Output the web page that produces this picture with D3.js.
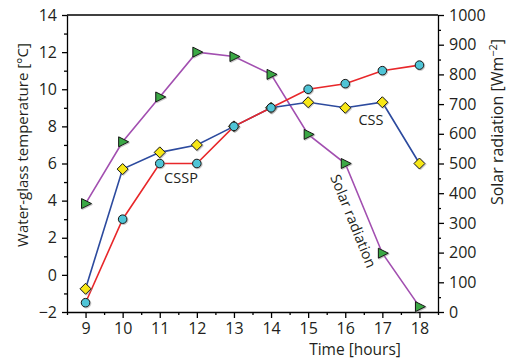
<!DOCTYPE html>
<html>
<head>
<meta charset="utf-8">
<script src="https://cdn.jsdelivr.net/npm/d3@7"></script>
<style>
  body { margin: 0; background: #fff; }
  text { font-family: "Open Sans", "Noto Sans", sans-serif; fill: #231f20; }
</style>
</head>
<body>
<div id="chart"></div>
<script>
(function() {
    const width = 507;
    const height = 360;
    const margin = {top: 15, right: 69, bottom: 48, left: 67};

    // hours on the x axis
    const hours = [9, 10, 11, 12, 13, 14, 15, 16, 17, 18];
    // CSSP water-glass temperature [°C]
    const cssp = [-1.5, 3.0, 6.0, 6.0, 8.0, 9.0, 10.0, 10.3, 11.0, 11.3];
    // CSS water-glass temperature [°C]
    const css = [-0.75, 5.7, 6.6, 7.0, 8.0, 9.0, 9.3, 9.0, 9.3, 6.0];
    // solar radiation [W m-2]
    const solar = [365, 573, 724, 875, 860, 800, 598, 500, 198, 18];

    const tempTicks = [-2, 0, 2, 4, 6, 8, 10, 12, 14];
    const solarTicks = [0, 100, 200, 300, 400, 500, 600, 700, 800, 900, 1000];

    const iw = width - margin.left - margin.right;
    const ih = height - margin.top - margin.bottom;

    const x = d3.scaleLinear().domain([8.5, 18.5]).range([0, iw]);
    const yT = d3.scaleLinear().domain([-2, 14]).range([ih, 0]);
    const yS = d3.scaleLinear().domain([0, 1000]).range([ih, 0]);

    const svg = d3.select("#chart").append("svg")
        .attr("width", width)
        .attr("height", height);

    const defs = svg.append("defs");
    defs.append("filter")
        .attr("id", "shadow")
        .attr("x", "-50%").attr("y", "-50%")
        .attr("width", "200%").attr("height", "200%")
        .append("feDropShadow")
        .attr("dx", 0.8).attr("dy", 0.8)
        .attr("stdDeviation", 0.7)
        .attr("flood-color", "#888")
        .attr("flood-opacity", 0.6);

    const g = svg.append("g")
        .attr("transform", "translate(" + margin.left + "," + margin.top + ")");

    // frame top line
    g.append("line")
        .attr("x1", 0).attr("x2", iw)
        .attr("y1", 0).attr("y2", 0)
        .attr("stroke", "#000").attr("stroke-width", 1.3);

    // axes: majors with labels, minors without
    function styleAxis(sel) {
        sel.select(".domain").attr("stroke", "#000").attr("stroke-width", 1.3);
        sel.selectAll(".tick line").attr("stroke", "#000").attr("stroke-width", 1.3);
        sel.selectAll(".tick text").attr("font-size", 16).attr("fill", "#231f20");
    }

    const xAxis = g.append("g")
        .attr("transform", "translate(0," + ih + ")")
        .call(d3.axisBottom(x).tickValues(hours).tickSize(6).tickSizeOuter(0).tickPadding(5).tickFormat(d3.format("d")));
    styleAxis(xAxis);
    g.append("g")
        .attr("transform", "translate(0," + ih + ")")
        .call(d3.axisBottom(x).tickValues(hours.map(h => h - 0.5).concat([18.5])).tickSize(3).tickSizeOuter(0).tickFormat(""))
        .call(styleAxis)
        .select(".domain").remove();

    const yAxisL = g.append("g")
        .call(d3.axisLeft(yT).tickValues(tempTicks).tickSize(5).tickSizeOuter(0).tickPadding(5).tickFormat(d => d < 0 ? "\u2212" + Math.abs(d) : d));
    styleAxis(yAxisL);
    g.append("g")
        .call(d3.axisLeft(yT).tickValues(d3.range(-1, 14, 2)).tickSize(3).tickFormat(""))
        .call(styleAxis)
        .select(".domain").remove();

    const yAxisR = g.append("g")
        .attr("transform", "translate(" + iw + ",0)")
        .call(d3.axisRight(yS).tickValues(solarTicks).tickSize(6).tickSizeOuter(0).tickPadding(5).tickFormat(d3.format("d")));
    styleAxis(yAxisR);
    g.append("g")
        .attr("transform", "translate(" + iw + ",0)")
        .call(d3.axisRight(yS).tickValues(d3.range(50, 1000, 100)).tickSize(3).tickFormat(""))
        .call(styleAxis)
        .select(".domain").remove();

    // axis titles
    svg.append("text")
        .attr("transform", "translate(28,145) rotate(-90)")
        .attr("text-anchor", "middle")
        .attr("font-size", 15)
        .text("Water-glass temperature [°C]");

    const rt = svg.append("text")
        .attr("transform", "translate(503,122) rotate(-90)")
        .attr("text-anchor", "middle")
        .attr("font-size", 16);
    rt.append("tspan").text("Solar radiation [Wm");
    rt.append("tspan").attr("dy", -6).attr("font-size", 11).text("\u22122");
    rt.append("tspan").attr("dy", 6).text("]");

    svg.append("text")
        .attr("x", 355).attr("y", 355)
        .attr("text-anchor", "middle")
        .attr("font-size", 15.5)
        .text("Time [hours]");

    // series
    const lineT = d3.line().x((d, i) => x(hours[i])).y(d => yT(d));
    const lineS = d3.line().x((d, i) => x(hours[i])).y(d => yS(d));

    g.append("path").datum(solar).attr("d", lineS)
        .attr("fill", "none").attr("stroke", "#a24fb0").attr("stroke-width", 1.6);
    g.append("path").datum(css).attr("d", lineT)
        .attr("fill", "none").attr("stroke", "#2c4a9e").attr("stroke-width", 1.6);
    g.append("path").datum(cssp).attr("d", lineT)
        .attr("fill", "none").attr("stroke", "#e8272a").attr("stroke-width", 1.6);

    // green triangles (solar)
    g.append("g").selectAll("path")
        .data(solar)
        .enter()
        .append("path")
        .attr("transform", (d, i) => "translate(" + x(hours[i]) + "," + yS(d) + ")")
        .attr("d", "M-4,-5 L6,0 L-4,5 Z")
        .attr("fill", "#3aa844")
        .attr("stroke", "#111")
        .attr("stroke-width", 1)
        .attr("filter", "url(#shadow)");

    // yellow diamonds (CSS)
    g.append("g").selectAll("path")
        .data(css)
        .enter()
        .append("path")
        .attr("transform", (d, i) => "translate(" + x(hours[i]) + "," + yT(d) + ")")
        .attr("d", "M0,-5.5 L5.5,0 L0,5.5 L-5.5,0 Z")
        .attr("fill", "#f7e717")
        .attr("stroke", "#111")
        .attr("stroke-width", 1)
        .attr("filter", "url(#shadow)");

    // cyan circles (CSSP)
    g.append("g").selectAll("circle")
        .data(cssp)
        .enter()
        .append("circle")
        .attr("cx", (d, i) => x(hours[i]))
        .attr("cy", d => yT(d))
        .attr("r", 4.3)
        .attr("fill", "#4fc4d6")
        .attr("stroke", "#111")
        .attr("stroke-width", 1)
        .attr("filter", "url(#shadow)");

    // series labels
    svg.append("text")
        .attr("x", 181).attr("y", 183)
        .attr("text-anchor", "middle")
        .attr("font-size", 14.5)
        .text("CSSP");
    svg.append("text")
        .attr("x", 371).attr("y", 125)
        .attr("text-anchor", "middle")
        .attr("font-size", 14.5)
        .text("CSS");
    svg.append("text")
        .attr("transform", "translate(330,177) rotate(68)")
        .attr("font-size", 14.5)
        .text("Solar radiation");
})();
</script>
</body>
</html>
